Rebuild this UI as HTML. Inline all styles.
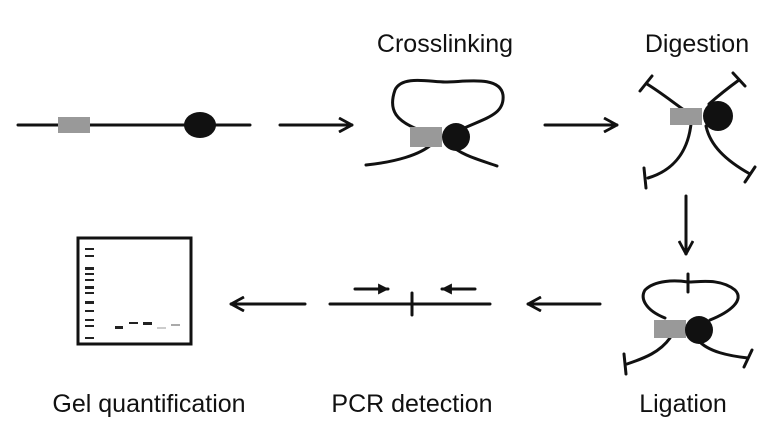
<!DOCTYPE html>
<html><head><meta charset="utf-8"><style>
html,body{margin:0;padding:0;background:#fff;}
svg text{font-family:"Liberation Sans",sans-serif;font-size:25px;fill:#111;}
</style></head><body>
<svg width="776" height="436" viewBox="0 0 776 436" xmlns="http://www.w3.org/2000/svg">
<defs>
<marker id="ah" viewBox="0 0 16 16" refX="15" refY="8" markerWidth="16" markerHeight="16" markerUnits="userSpaceOnUse" orient="auto">
<path d="M2,1 L15,8 L2,15" fill="none" stroke="#111" stroke-width="2.8"/>
</marker>
<marker id="ahs" viewBox="0 0 10 10" refX="9" refY="5" markerWidth="11" markerHeight="11" markerUnits="userSpaceOnUse" orient="auto">
<path d="M0,0 L10,5 L0,10 Z" fill="#111"/>
</marker>
</defs>
<g stroke="#111" stroke-width="3" fill="none" stroke-linecap="round">
<line x1="18" y1="125" x2="250" y2="125"/>
<line x1="280" y1="125" x2="352" y2="125" stroke-width="3" marker-end="url(#ah)"/>
<line x1="545" y1="125" x2="617" y2="125" stroke-width="3" marker-end="url(#ah)"/>
<line x1="686" y1="196" x2="686" y2="254" stroke-width="3" marker-end="url(#ah)"/>
<line x1="600" y1="304" x2="528" y2="304" stroke-width="3" marker-end="url(#ah)"/>
<line x1="305" y1="304" x2="231" y2="304" stroke-width="3" marker-end="url(#ah)"/>
<path d="M425,132 C395,122 388,110 395,90 C402,75 430,82 445,82 C465,82 500,75 503,95 C505,115 485,118 460,130"/>
<path d="M366,165 C395,162 420,155 432,144"/>
<path d="M450,144 C460,155 480,160 497,166"/>
<path d="M684,110 C670,100 660,92 647,84"/><path d="M640,91 L652,76"/>
<path d="M709,104 C718,96 728,88 739,80"/><path d="M733,73 L745,86"/>
<path d="M691,124 C688,150 675,170 648,178"/><path d="M644,168 L646,188"/>
<path d="M706,126 C710,145 725,160 750,174"/><path d="M745,182 L755,167"/>
<path d="M665,318 C645,310 640,298 645,290 C655,280 675,280 688,282 C700,282 720,278 735,290 C745,300 730,312 710,320"/>
<line x1="688" y1="274" x2="688" y2="292"/>
<path d="M670,338 C660,352 645,358 627,364"/><path d="M624,354 L626,374"/>
<path d="M698,340 C708,352 730,356 748,358"/><path d="M744,367 L752,350"/>
<line x1="330" y1="304" x2="490" y2="304"/>
<line x1="412" y1="293" x2="412" y2="315"/>
<line x1="355" y1="289" x2="388" y2="289" marker-end="url(#ahs)"/>
<line x1="475" y1="289" x2="442" y2="289" marker-end="url(#ahs)"/>
<rect x="78" y="238" width="113" height="106" stroke-width="3"/>
</g>
<rect x="58" y="117" width="32" height="16" fill="#999"/>
<ellipse cx="200" cy="125" rx="16" ry="13" fill="#111"/>
<rect x="410" y="127" width="32" height="20" fill="#999"/>
<circle cx="456" cy="137" r="14" fill="#111"/>
<rect x="670" y="108" width="32" height="17" fill="#999"/>
<circle cx="718" cy="116" r="15" fill="#111"/>
<rect x="654" y="320" width="32" height="18" fill="#999"/>
<circle cx="699" cy="330" r="14" fill="#111"/>
<g fill="#222">
<rect x="85" y="248" width="9" height="2"/><rect x="85" y="255" width="9" height="2"/>
<rect x="85" y="267" width="9" height="3"/><rect x="85" y="273" width="9" height="2"/>
<rect x="85" y="279" width="9" height="2"/><rect x="85" y="286" width="9" height="3"/>
<rect x="85" y="292" width="9" height="2"/><rect x="85" y="301" width="9" height="3"/>
<rect x="85" y="310" width="9" height="2"/><rect x="85" y="319" width="9" height="2"/>
<rect x="85" y="325" width="9" height="2"/><rect x="85" y="337" width="9" height="2"/>
<rect x="115" y="326" width="8" height="3"/><rect x="129" y="322" width="9" height="2"/>
<rect x="143" y="322" width="9" height="3"/>
<rect x="157" y="327" width="9" height="2" fill="#ccc"/><rect x="171" y="324" width="9" height="2" fill="#aaa"/>
</g>
<text x="445" y="52" text-anchor="middle">Crosslinking</text>
<text x="697" y="52" text-anchor="middle">Digestion</text>
<text x="683" y="412" text-anchor="middle">Ligation</text>
<text x="412" y="412" text-anchor="middle">PCR detection</text>
<text x="149" y="412" text-anchor="middle">Gel quantification</text>
</svg>
</body></html>
